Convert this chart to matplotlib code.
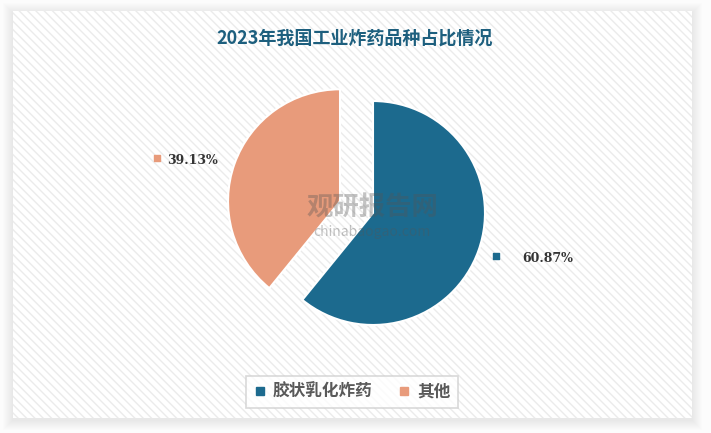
import numpy as np
import matplotlib
matplotlib.use("Agg")
from matplotlib import pyplot as plt
from matplotlib.patches import Rectangle

plt.rcParams['font.family'] = ['Noto Sans CJK SC', 'DejaVu Sans']

title = "2023年我国工业炸药品种占比情况"
categories = ["胶状乳化炸药", "其他"]
shares = [60.87, 39.13]
colors = ["#1c6a8e", "#e89b7b"]
explode_px = [0, 35]

W, H = 711, 433
fig = plt.figure(figsize=(W / 100, H / 100), dpi=100)
fig.patch.set_facecolor("#fcfcfc")
ax = fig.add_axes([0, 0, 1, 1])
ax.set_xlim(0, W)
ax.set_ylim(0, H)
ax.axis("off")

# card with soft shadow and hatch pattern
x0, y0, x1, y1 = 13, 15, 692, 422
for g in range(10, 0, -1):
    ax.add_patch(Rectangle((x0 - g, y0 - g - 2), x1 - x0 + 2 * g, y1 - y0 + 2 * g,
                           facecolor="black", edgecolor="none", alpha=0.008, zorder=0))
ax.add_patch(Rectangle((x0, y0), x1 - x0, y1 - y0, facecolor="white", edgecolor="none", zorder=1))
plt.rcParams['hatch.color'] = "#ebebeb"
plt.rcParams['hatch.linewidth'] = 1.0
ax.add_patch(Rectangle((x0, y0), x1 - x0, y1 - y0, facecolor="none", edgecolor="#ebebeb",
                       linewidth=0, hatch="\\\\\\\\", zorder=1.5))

center = (373, H - 213)
radius = 112
wedges, _ = ax.pie(shares, colors=colors, startangle=90, counterclock=False,
                   explode=explode_px, center=center, radius=radius, frame=True,
                   wedgeprops=dict(edgecolor="white", linewidth=1.5, zorder=3))
for w in wedges:
    w.set_zorder(3)
ax.set_xlim(0, W)
ax.set_ylim(0, H)
ax.set_aspect("equal")
ax.axis("off")

# labels with small square markers
label_dist = [1.61, 1.37]
label_turn = [5, 4]
marker_gap = [52, 35]
for w, val, col, d, t, mg in zip(wedges, shares, colors, label_dist, label_turn, marker_gap):
    mid = np.deg2rad((w.theta1 + w.theta2) / 2 + t)
    cx, cy = w.center
    lx = cx + d * radius * np.cos(mid)
    ly = cy + d * radius * np.sin(mid)
    ax.scatter([lx - mg], [ly + 2], marker="s", s=14, color=col, zorder=4)
    ax.text(lx, ly, f"{val:.2f}%", ha="center", va="center", fontsize=9,
            fontweight="bold", family=["DejaVu Serif"], color="#333333", zorder=4)

# watermark
ax.text(372, H - 208, "观研报告网", ha="center", va="center", fontsize=19,
        fontweight="bold", color="#555555", alpha=0.35, zorder=5)
ax.text(372, H - 232, "chinabaogao.com", ha="center", va="center", fontsize=10,
        color="#555555", alpha=0.35, zorder=5)

ax.text(355, H - 38, title, ha="center", va="center", fontsize=13,
        fontweight="bold", color="#1d5f7e", zorder=5)

handles = [plt.Line2D([], [], marker="s", linestyle="none", markersize=6,
                      color=c) for c in colors]
leg = fig.legend(handles, categories, loc="center", bbox_to_anchor=(352 / W, 1 - 392 / H),
                 ncol=2, frameon=True, fancybox=False, edgecolor="#d0d0d0",
                 prop=dict(size=12, weight="bold"),
                 handlelength=0.8, handletextpad=0.4, columnspacing=1.5,
                 borderpad=0.4, labelcolor="#595959")
leg.get_frame().set_linewidth(1.2)

fig.savefig("out.png", dpi=100, facecolor=fig.get_facecolor())
